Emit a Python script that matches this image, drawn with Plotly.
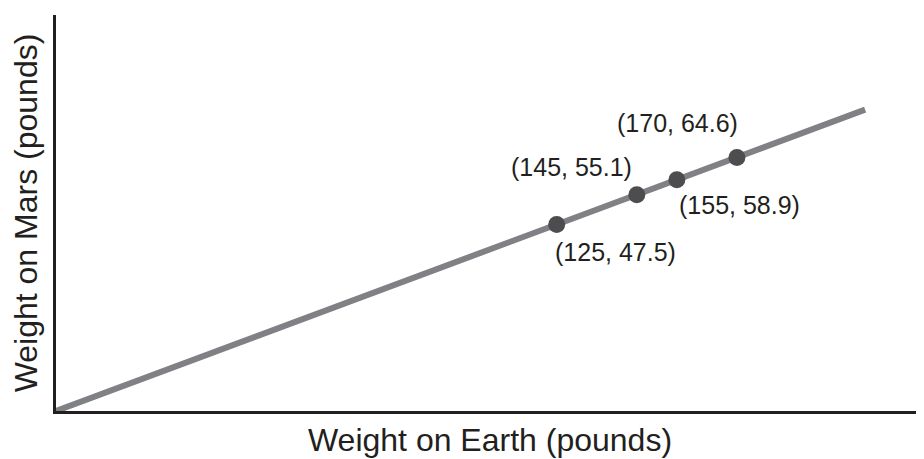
import plotly.graph_objects as go

# Data
line_x = [0, 202]
line_y = [0, 76.8]
earth = [125, 145, 155, 170]
mars = [47.5, 55.1, 58.9, 64.6]
# label offsets in px (x, y up-positive)
label_dx = [59, -65, 63, -59]
label_dy = [-27, 28, -25, 34]

x_title = "Weight on Earth (pounds)"
y_title = "Weight on Mars (pounds)"

FONT = "Liberation Sans, Arial, Helvetica, sans-serif"

fig = go.Figure()
fig.add_trace(go.Scatter(x=line_x, y=line_y, mode="lines",
                         line=dict(color="#808184", width=6),
                         hoverinfo="skip", cliponaxis=False))
fig.add_trace(go.Scatter(x=earth, y=mars, mode="markers",
                         marker=dict(color="#4d4d4f", size=17),
                         cliponaxis=False))

for ex, my, dx, dy in zip(earth, mars, label_dx, label_dy):
    fig.add_annotation(x=ex, y=my, text=f"({ex}, {my})", showarrow=False,
                       xshift=dx, yshift=dy,
                       font=dict(family=FONT, size=25, color="#231f20"))

fig.update_layout(
    width=916, height=451,
    margin=dict(l=48, r=0, t=7, b=48),
    paper_bgcolor="white", plot_bgcolor="white",
    showlegend=False,
    font=dict(family=FONT, color="#231f20"),
)
fig.update_xaxes(range=[0, 216.7], showline=True, linecolor="#231f20", linewidth=2.5,
                 showgrid=False, zeroline=False, showticklabels=False, ticks="",
                 title=dict(text=x_title, font=dict(size=32, family=FONT, color="#231f20"),
                            standoff=16))
fig.update_yaxes(range=[0, 100.9], showline=True, linecolor="#231f20", linewidth=2.5,
                 showgrid=False, zeroline=False, showticklabels=False, ticks="",
                 title=dict(text=y_title, font=dict(size=32, family=FONT, color="#231f20"),
                            standoff=8))

fig.write_html("out.html")
